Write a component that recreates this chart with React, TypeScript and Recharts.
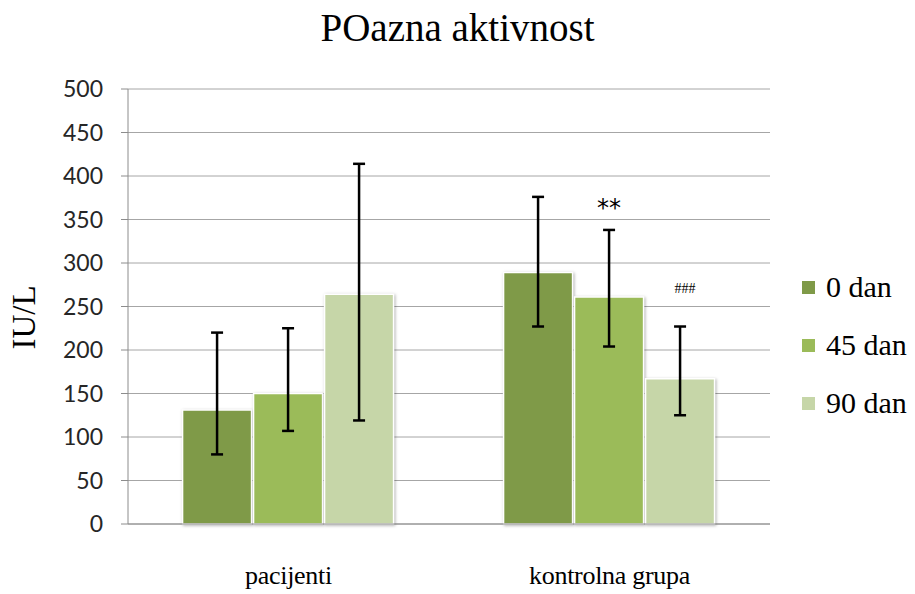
import React from "react";
import {
  Bar,
  BarChart,
  CartesianGrid,
  ErrorBar,
  LabelList,
  XAxis,
  YAxis,
} from "recharts";

const categories = ["pacijenti", "kontrolna grupa"];
const seriesNames = ["0 dan", "45 dan", "90 dan"];
const colors = ["#7f9a48", "#9bbb59", "#c6d6a8"];

// mean values
const dan0 = [131, 289];
const dan45 = [150, 261];
const dan90 = [264, 167];

// error bar ends (low / high)
const dan0Low = [80, 227];
const dan0High = [220, 376];
const dan45Low = [107, 204];
const dan45High = [225, 338];
const dan90Low = [119, 125];
const dan90High = [414, 227];

// significance marks
const marks45 = ["", "**"];
const marks90 = ["", "###"];

const yTicks = [0, 50, 100, 150, 200, 250, 300, 350, 400, 450, 500];

const means = [dan0, dan45, dan90];
const lows = [dan0Low, dan45Low, dan90Low];
const highs = [dan0High, dan45High, dan90High];

const data = categories.map((name, i) => {
  const row: Record<string, any> = { name };
  means.forEach((m, s) => {
    row["s" + s] = m[i];
    row["e" + s] = [m[i] - lows[s][i], highs[s][i] - m[i]];
    row["hi" + s] = highs[s][i];
  });
  row.m1 = marks45[i];
  row.m2 = marks90[i];
  return row;
});

const serif = "'Liberation Serif', 'Times New Roman', serif";

const makeMark = (s: number, fontSize: number, gap: number, font: string, weight: number) =>
  (props: any) => {
    const { x, y, width, height, value, index } = props;
    if (!value) return null;
    const mean = data[index]["s" + s];
    const hi = data[index]["hi" + s];
    const pxPer = height / mean;
    const yTop = y - (hi - mean) * pxPer;
    return (
      <text
        x={x + width / 2 + (s === 2 ? 5 : 0)}
        y={yTop - gap}
        textAnchor="middle"
        fontSize={fontSize}
        fontFamily={font}
        fontWeight={weight}
        fill="#000"
      >
        {value}
      </text>
    );
  };

const XTick = (props: any) => {
  const { x, y, payload } = props;
  return (
    <text x={x} y={y + 52} textAnchor="middle" fontSize={26} fontFamily={serif} fill="#000" letterSpacing={-0.3}>
      {payload.value}
    </text>
  );
};

const YLabel = (props: any) => {
  const { viewBox } = props;
  const cy = viewBox.y + viewBox.height / 2 + 11;
  return (
    <text
      x={24}
      y={cy}
      transform={`rotate(-90 24 ${cy})`}
      textAnchor="middle"
      dominantBaseline="central"
      fontSize={33}
      fontFamily={serif}
      fill="#000"
    >
      IU/L
    </text>
  );
};

const shadow = { filter: "drop-shadow(1px 1px 1.5px rgba(0,0,0,0.3))" };

export default function App() {
  return (
    <div style={{ position: "absolute", left: 0, top: 0, width: 915, height: 594, background: "#fff" }}>
      <div
        style={{
          position: "absolute",
          left: 0,
          width: 915,
          top: 5,
          textAlign: "center",
          fontFamily: serif,
          fontSize: 39,
          color: "#000",
        }}
      >
        POazna aktivnost
      </div>
      <div style={{ position: "absolute", left: 0, top: 0 }}>
        <BarChart
          width={915}
          height={594}
          data={data}
          margin={{ top: 89, right: 145, bottom: 0, left: 0 }}
          barCategoryGap="17%"
          barGap={2}
        >
          <CartesianGrid vertical={false} stroke="#a6a6a6" />
          <XAxis
            dataKey="name"
            height={70}
            axisLine={{ stroke: "#8c8c8c" }}
            tickLine={false}
            tick={<XTick />}
            interval={0}
          />
          <YAxis
            width={128}
            domain={[0, 500]}
            ticks={yTicks}
            interval={0}
            axisLine={{ stroke: "#8c8c8c" }}
            tickLine={{ stroke: "#8c8c8c" }}
            tickSize={7}
            tickMargin={18}
            tick={{ fill: "#262626", fontSize: 23, fontFamily: "Lato, 'Open Sans', sans-serif" }}
            label={<YLabel />}
          />
          {seriesNames.map((n, s) => (
            <Bar
              key={n}
              dataKey={"s" + s}
              name={n}
              fill={colors[s]}
              stroke="#fff"
              strokeWidth={1.5}
              style={shadow}
              isAnimationActive={false}
            >
              <ErrorBar dataKey={"e" + s} width={6} stroke="#000" strokeWidth={2.5} />
              {s === 1 && (
                <LabelList dataKey="m1" content={makeMark(1, 24, 14, "'DejaVu Sans', sans-serif", 400)} />
              )}
              {s === 2 && <LabelList dataKey="m2" content={makeMark(2, 14, 34, serif, 400)} />}
            </Bar>
          ))}
        </BarChart>
      </div>
      <div style={{ position: "absolute", left: 802, top: 258 }}>
        {seriesNames.map((n, i) => (
          <div key={n} style={{ display: "flex", alignItems: "center", height: 58 }}>
            <span style={{ width: 13, height: 13, background: colors[i], marginRight: 11, display: "inline-block" }} />
            <span style={{ fontFamily: serif, fontSize: 30, color: "#000" }}>{n}</span>
          </div>
        ))}
      </div>
    </div>
  );
}
